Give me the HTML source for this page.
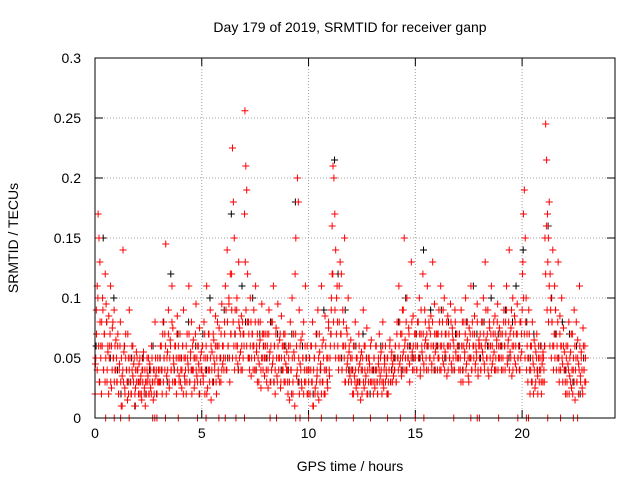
<!DOCTYPE html>
<html><head><meta charset="utf-8"><style>
body{margin:0;background:#fff}
svg{display:block;font-family:"Liberation Sans",sans-serif}
</style></head><body>
<svg id="chart" width="640" height="480">
<text x="350" y="32" font-size="14" text-anchor="middle">Day 179 of 2019, SRMTID for receiver ganp</text>
<text x="350" y="471" font-size="14" text-anchor="middle">GPS time / hours</text>
<text x="18" y="238" font-size="14" text-anchor="middle" transform="rotate(-90 18 238)">SRMTID / TECUs</text>
<g id="grid"></g><g id="ticks"></g><g id="black"></g><g id="red"></g>
<rect x="95" y="58" width="520" height="360" fill="none" stroke="#000"/>
</svg>
<script>
const xTicks=[0,5,10,15,20];
const yTicks=[0,0.05,0.1,0.15,0.2,0.25,0.3];
const yTickLabels=["0","0.05","0.1","0.15","0.2","0.25","0.3"];
const redHourly=[
[0.045,0.09,0.11,0.17,0.15,0.13,0.06,0.08,0.10,0.04,0.07,0.12,0.095,0.03,0.055,0.085,0.06,0.11,0.025,0.075,0.05,0.09,0.04,0.065],
[0.03,0.06,0.02,0.045,0.08,0.01,0.035,0.14,0.055,0.025,0.07,0.04,0.015,0.05,0.09,0.03,0.02,0.06,0.035,0.045,0.01,0.025,0.055,0.04],
[0.03,0.045,0.02,0.035,0.015,0.04,0.055,0.025,0.01,0.03,0.05,0.035,0.02,0.045,0.025,0.06,0.03,0.015,0.04,0.08,0.035,0.02,0.05,0.03],
[0.03,0.06,0.04,0.02,0.08,0.05,0.07,0.145,0.035,0.055,0.09,0.025,0.065,0.04,0.11,0.075,0.045,0.03,0.06,0.02,0.085,0.05,0.035,0.07],
[0.04,0.025,0.06,0.09,0.035,0.05,0.02,0.07,0.045,0.11,0.03,0.055,0.08,0.04,0.065,0.025,0.05,0.095,0.035,0.06,0.045,0.075,0.03,0.055],
[0.06,0.035,0.08,0.02,0.05,0.11,0.025,0.07,0.04,0.09,0.015,0.055,0.03,0.065,0.045,0.085,0.02,0.06,0.035,0.075,0.05,0.03,0.095,0.045],
[0.05,0.08,0.11,0.04,0.14,0.06,0.095,0.03,0.07,0.12,0.225,0.18,0.15,0.09,0.06,0.10,0.045,0.13,0.075,0.055,0.085,0.04,0.07,0.06],
[0.256,0.21,0.19,0.12,0.08,0.05,0.10,0.035,0.07,0.06,0.09,0.04,0.11,0.055,0.03,0.08,0.045,0.065,0.025,0.095,0.05,0.07,0.035,0.06],
[0.04,0.07,0.025,0.09,0.055,0.03,0.08,0.045,0.11,0.06,0.02,0.075,0.035,0.095,0.05,0.065,0.025,0.085,0.04,0.06,0.03,0.07,0.045,0.055],
[0.03,0.06,0.015,0.08,0.04,0.10,0.02,0.055,0.01,0.07,0.035,0.20,0.18,0.09,0.045,0.065,0.025,0.05,0.08,0.03,0.11,0.04,0.06,0.02],
[0.04,0.02,0.06,0.03,0.08,0.01,0.05,0.025,0.07,0.035,0.09,0.015,0.055,0.045,0.11,0.03,0.065,0.02,0.085,0.04,0.05,0.025,0.075,0.035],
[0.06,0.09,0.12,0.21,0.20,0.17,0.14,0.10,0.08,0.05,0.11,0.13,0.07,0.04,0.09,0.06,0.15,0.03,0.075,0.045,0.10,0.055,0.035,0.065],
[0.04,0.02,0.06,0.035,0.08,0.025,0.05,0.03,0.07,0.045,0.015,0.055,0.04,0.09,0.025,0.06,0.035,0.075,0.02,0.05,0.045,0.03,0.065,0.04],
[0.03,0.05,0.025,0.06,0.04,0.02,0.045,0.07,0.035,0.055,0.03,0.08,0.025,0.045,0.06,0.035,0.05,0.02,0.04,0.065,0.03,0.055,0.045,0.035],
[0.04,0.06,0.03,0.08,0.05,0.11,0.045,0.07,0.035,0.09,0.055,0.15,0.065,0.04,0.10,0.05,0.075,0.045,0.06,0.13,0.055,0.085,0.04,0.07],
[0.06,0.04,0.08,0.05,0.10,0.035,0.07,0.055,0.12,0.045,0.09,0.065,0.04,0.11,0.06,0.075,0.05,0.085,0.045,0.13,0.06,0.095,0.055,0.07],
[0.07,0.05,0.09,0.04,0.11,0.06,0.08,0.045,0.10,0.055,0.07,0.035,0.085,0.06,0.05,0.095,0.045,0.075,0.065,0.04,0.09,0.055,0.07,0.05],
[0.05,0.07,0.04,0.09,0.06,0.03,0.08,0.055,0.10,0.045,0.065,0.035,0.075,0.05,0.11,0.04,0.07,0.06,0.085,0.045,0.055,0.095,0.035,0.065],
[0.06,0.04,0.08,0.055,0.10,0.045,0.13,0.065,0.05,0.09,0.035,0.075,0.06,0.11,0.045,0.07,0.055,0.085,0.04,0.065,0.095,0.05,0.075,0.06],
[0.05,0.07,0.04,0.09,0.06,0.08,0.11,0.045,0.065,0.14,0.055,0.075,0.035,0.10,0.06,0.085,0.045,0.07,0.095,0.05,0.06,0.04,0.08,0.055],
[0.12,0.17,0.19,0.15,0.10,0.07,0.05,0.09,0.04,0.06,0.03,0.08,0.045,0.065,0.025,0.055,0.07,0.035,0.05,0.04,0.06,0.03,0.045,0.055],
[0.04,0.06,0.245,0.215,0.17,0.15,0.18,0.12,0.10,0.08,0.14,0.06,0.11,0.09,0.07,0.05,0.13,0.04,0.085,0.06,0.10,0.045,0.075,0.055],
[0.03,0.06,0.02,0.045,0.08,0.035,0.055,0.025,0.07,0.04,0.09,0.015,0.05,0.03,0.065,0.045,0.11,0.035,0.055,0.025,0.075,0.04,0.06,0.03]
];
const redHourly2=[
[0.02,0.05,0.07,0.04,0.1,0.06,0.03,0.08,0.05,0.02,0.06,0.09,0.04,0.07,0.03,0.05,0.08,0.04,0.06,0.02,0.05,0.07,0.03,0.06,0.04,0.08,0.05,0.03,0.06,0.04],
[0.05,0.03,0.07,0.02,0.04,0.06,0.03,0.05,0.01,0.04,0.03,0.06,0.02,0.05,0.04,0.03,0.07,0.02,0.04,0.05,0.03,0.02,0.04,0.06,0.03,0.05,0.02,0.04,0.03,0.05],
[0.04,0.02,0.03,0.05,0.03,0.02,0.04,0.03,0.05,0.02,0.04,0.03,0.02,0.04,0.03,0.05,0.02,0.03,0.04,0.02,0.05,0.03,0.04,0.02,0.03,0.05,0.04,0.02,0.03,0.04],
[0.04,0.05,0.03,0.06,0.04,0.07,0.03,0.05,0.04,0.06,0.02,0.05,0.04,0.07,0.03,0.05,0.06,0.04,0.08,0.03,0.05,0.04,0.06,0.03,0.05,0.07,0.04,0.06,0.03,0.05],
[0.03,0.05,0.04,0.06,0.02,0.05,0.03,0.04,0.06,0.03,0.05,0.04,0.07,0.03,0.05,0.04,0.02,0.06,0.04,0.05,0.03,0.07,0.04,0.05,0.03,0.06,0.04,0.02,0.05,0.04],
[0.04,0.06,0.03,0.05,0.07,0.04,0.06,0.02,0.05,0.04,0.07,0.03,0.05,0.06,0.04,0.03,0.07,0.05,0.04,0.06,0.03,0.05,0.08,0.04,0.06,0.03,0.05,0.07,0.04,0.06],
[0.06,0.04,0.07,0.05,0.09,0.04,0.08,0.06,0.1,0.05,0.12,0.07,0.09,0.05,0.08,0.06,0.04,0.07,0.05,0.09,0.06,0.04,0.08,0.05,0.07,0.04,0.06,0.08,0.05,0.07],
[0.17,0.13,0.09,0.06,0.08,0.05,0.07,0.04,0.06,0.08,0.05,0.07,0.04,0.06,0.05,0.08,0.04,0.06,0.07,0.05,0.03,0.06,0.08,0.04,0.05,0.07,0.04,0.06,0.05,0.07],
[0.05,0.03,0.06,0.04,0.07,0.05,0.03,0.06,0.04,0.08,0.05,0.03,0.06,0.04,0.07,0.05,0.03,0.06,0.04,0.05,0.07,0.03,0.05,0.06,0.04,0.07,0.05,0.03,0.06,0.04],
[0.04,0.02,0.05,0.03,0.06,0.04,0.02,0.05,0.03,0.07,0.05,0.12,0.15,0.06,0.04,0.03,0.05,0.02,0.06,0.04,0.03,0.07,0.05,0.02,0.04,0.06,0.03,0.05,0.02,0.04],
[0.03,0.05,0.02,0.04,0.06,0.03,0.01,0.04,0.05,0.02,0.06,0.03,0.04,0.02,0.05,0.07,0.03,0.04,0.02,0.06,0.03,0.05,0.04,0.02,0.06,0.04,0.03,0.05,0.08,0.04],
[0.05,0.07,0.1,0.16,0.12,0.08,0.06,0.09,0.05,0.07,0.11,0.06,0.04,0.08,0.05,0.07,0.12,0.04,0.06,0.08,0.05,0.03,0.06,0.04,0.07,0.05,0.03,0.06,0.04,0.05],
[0.03,0.05,0.04,0.02,0.06,0.03,0.04,0.05,0.03,0.02,0.04,0.06,0.03,0.05,0.04,0.02,0.05,0.03,0.06,0.04,0.03,0.05,0.02,0.04,0.03,0.05,0.04,0.06,0.03,0.04],
[0.04,0.02,0.05,0.03,0.04,0.06,0.03,0.02,0.05,0.04,0.03,0.05,0.04,0.02,0.06,0.03,0.04,0.05,0.03,0.04,0.02,0.05,0.03,0.04,0.06,0.03,0.05,0.04,0.03,0.05],
[0.05,0.04,0.06,0.03,0.07,0.05,0.04,0.06,0.08,0.05,0.04,0.07,0.05,0.09,0.04,0.06,0.05,0.08,0.04,0.06,0.05,0.07,0.03,0.06,0.05,0.08,0.04,0.06,0.05,0.07],
[0.05,0.07,0.04,0.06,0.08,0.05,0.07,0.04,0.09,0.06,0.05,0.07,0.04,0.06,0.08,0.05,0.07,0.06,0.04,0.08,0.05,0.07,0.06,0.04,0.08,0.06,0.05,0.07,0.04,0.06],
[0.06,0.04,0.07,0.05,0.08,0.06,0.04,0.07,0.05,0.09,0.06,0.04,0.07,0.05,0.08,0.06,0.04,0.07,0.05,0.06,0.08,0.04,0.07,0.05,0.06,0.04,0.08,0.05,0.07,0.06],
[0.06,0.04,0.07,0.05,0.03,0.06,0.08,0.04,0.06,0.05,0.07,0.04,0.06,0.08,0.05,0.03,0.06,0.07,0.05,0.04,0.08,0.06,0.05,0.07,0.04,0.06,0.05,0.08,0.04,0.06],
[0.05,0.07,0.04,0.06,0.08,0.05,0.07,0.04,0.06,0.09,0.05,0.07,0.04,0.06,0.08,0.05,0.07,0.04,0.06,0.05,0.08,0.04,0.07,0.05,0.06,0.08,0.04,0.06,0.05,0.07],
[0.06,0.04,0.07,0.05,0.08,0.06,0.04,0.07,0.09,0.05,0.06,0.08,0.04,0.07,0.05,0.09,0.06,0.04,0.07,0.05,0.08,0.06,0.04,0.07,0.05,0.06,0.04,0.08,0.05,0.07],
[0.09,0.13,0.1,0.07,0.05,0.08,0.04,0.06,0.03,0.05,0.07,0.02,0.04,0.06,0.03,0.05,0.02,0.04,0.06,0.03,0.05,0.04,0.02,0.06,0.03,0.05,0.04,0.02,0.05,0.03],
[0.05,0.03,0.15,0.12,0.16,0.09,0.13,0.08,0.11,0.06,0.09,0.05,0.08,0.06,0.04,0.07,0.05,0.09,0.04,0.06,0.08,0.05,0.03,0.07,0.04,0.06,0.05,0.03,0.06,0.04],
[0.04,0.02,0.05,0.03,0.06,0.04,0.02,0.05,0.03,0.07,0.04,0.02,0.05,0.03,0.06,0.04,0.08,0.03,0.05,0.02,0.04,0.06,0.03,0.05,0.04,0.02,0.06,0.04,0.03,0.05]
];
const blackHourly=[
[0.06,0.03,0.15,0.08,0.05,0.1],[0.04,0.02,0.06,0.03,0.05,0.01],[0.03,0.05,0.02,0.04,0.06,0.02],[0.05,0.08,0.03,0.12,0.04,0.07],
[0.05,0.03,0.08,0.04,0.06,0.02],[0.07,0.04,0.1,0.03,0.06,0.05],[0.09,0.05,0.17,0.07,0.04,0.11],[0.08,0.05,0.1,0.04,0.07,0.06],
[0.05,0.08,0.03,0.07,0.04,0.06],[0.04,0.07,0.18,0.03,0.06,0.05],[0.05,0.02,0.07,0.04,0.09,0.03],[0.07,0.215,0.12,0.05,0.09,0.04],
[0.04,0.06,0.03,0.07,0.05,0.02],[0.04,0.03,0.06,0.05,0.02,0.04],[0.05,0.08,0.04,0.1,0.06,0.05],[0.07,0.05,0.14,0.06,0.09,0.04],
[0.06,0.09,0.05,0.08,0.04,0.07],[0.06,0.04,0.08,0.05,0.11,0.07],[0.05,0.08,0.06,0.1,0.04,0.07],[0.06,0.09,0.05,0.08,0.11,0.06],
[0.14,0.08,0.05,0.07,0.04,0.06],[0.06,0.16,0.1,0.07,0.05,0.08],[0.04,0.07,0.03,0.06,0.02,0.05]
];
const zeroTimes=[0.5,0.9,1.2,1.6,2.7,2.8,2.9,3.3,3.9,4.8,5.2,5.8,6.1,6.6,7.0,8.2,8.5,9.4,9.6,10.0,10.6,11.3,12.1,12.9,13.7,14.3,15.0,15.4,16.8,17.6,17.9,18.0,18.9,19.8,20.2,20.3,21.2,21.8,22.4,22.6];
const X0=95,X1=615,XMAX=24.35,Y0=418,Y1=58,YMAX=0.3;
const sx=t=>X0+t*(X1-X0)/XMAX, sy=v=>Y0-v*(Y0-Y1)/YMAX;
const NS="http://www.w3.org/2000/svg";
function mk(tag,attrs,parent){const e=document.createElementNS(NS,tag);for(const k in attrs)e.setAttribute(k,attrs[k]);parent.appendChild(e);return e;}
const grid=document.getElementById('grid'),ticks=document.getElementById('ticks');
yTicks.forEach((v,i)=>{
 const y=sy(v);
 if(i>0&&i<yTicks.length-1){const g=mk('line',{x1:X0,x2:X1,y1:y,y2:y,stroke:'#a0a0a0','stroke-dasharray':'1,2'},grid);
 
 }
 mk('line',{x1:X0,x2:X0+8,y1:y,y2:y,stroke:'#000'},ticks);
 mk('line',{x1:X1,x2:X1-8,y1:y,y2:y,stroke:'#000'},ticks);
 const l=mk('text',{x:X0-14,y:y+5,'font-size':14,'text-anchor':'end'},ticks);l.textContent=yTickLabels[i];
 
 
});
xTicks.forEach(t=>{
 const x=sx(t);
 if(t>0){const g=mk('line',{x1:x,x2:x,y1:Y0,y2:Y1,stroke:'#a0a0a0','stroke-dasharray':'1,2'},grid);
 
 }
 mk('line',{x1:x,x2:x,y1:Y0,y2:Y0-8,stroke:'#000'},ticks);
 mk('line',{x1:x,x2:x,y1:Y1,y2:Y1+8,stroke:'#000'},ticks);
 const l=mk('text',{x:x,y:Y0+20,'font-size':14,'text-anchor':'middle'},ticks);l.textContent=String(t);
 
 
});
function plus(g,t,v,c){const x=sx(t),y=sy(v);
 const p=mk('path',{d:`M${x-3.5} ${y}H${x+3.5}M${x} ${y-3.5}V${y+3.5}`,stroke:c,'stroke-width':1,fill:'none'},g);
 
 }
const bg=document.getElementById('black'),rg=document.getElementById('red');
blackHourly.forEach((arr,h)=>arr.forEach((v,i)=>plus(bg,h+(i+0.3)/arr.length,v,'#000')));
redHourly.forEach((arr,h)=>arr.forEach((v,i)=>plus(rg,h+(i+0.5)/arr.length,v,'#f00')));
redHourly2.forEach((arr,h)=>arr.forEach((v,i)=>plus(rg,h+(i+0.1)/arr.length,v,'#f00')));
zeroTimes.forEach(t=>plus(rg,t,0,'#f00'));
</script>
</body></html>
